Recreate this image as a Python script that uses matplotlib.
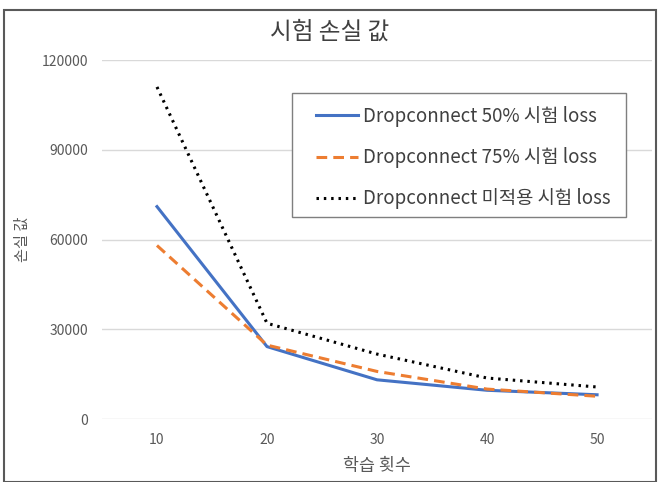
import matplotlib.pyplot as plt
from matplotlib.patches import Rectangle

plt.rcParams['font.family'] = ['Noto Sans CJK KR', 'DejaVu Sans']

epochs = ['10', '20', '30', '40', '50']
loss_50 = [71000, 24200, 13100, 9600, 8100]
loss_75 = [58000, 24700, 15900, 10000, 7600]
loss_none = [111000, 32000, 21700, 13700, 10700]
labels = ['Dropconnect 50% 시험 loss', 'Dropconnect 75% 시험 loss', 'Dropconnect 미적용 시험 loss']

fig = plt.figure(figsize=(6.6, 4.82), dpi=100)
ax = fig.add_axes([0.1545, 0.1307, 0.8335, 0.7448])

x = range(len(epochs))
ax.plot(x, loss_50, color='#4472C4', lw=2.2, label=labels[0])
ax.plot(x, loss_75, color='#ED7D31', lw=2.2, ls=(0, (3.5, 2)), label=labels[1])
ax.plot(x, loss_none, color='black', lw=2.2, ls=(0, (0.8, 1.6)), label=labels[2])

ax.set_xlim(-0.5, 4.5)
ax.set_ylim(0, 120000)
ax.set_yticks([0, 30000, 60000, 90000, 120000])
ax.set_xticks(list(x))
ax.set_xticklabels(epochs)
ax.tick_params(length=0, colors='#595959', labelsize=10, pad=10)
ax.grid(axis='y', color='#d9d9d9', lw=1)
ax.set_axisbelow(True)
for s in ax.spines.values():
    s.set_visible(False)

fig.text(0.5, 0.932, '시험 손실 값', ha='center', va='center', fontsize=17, color='#404040')
ax.set_xlabel('학습 횟수', fontsize=12.5, color='#595959', labelpad=7)
ax.set_ylabel('손실 값', fontsize=11, color='#595959')
ax.yaxis.set_label_coords(-0.13, 0.5)

# legend box drawn separately so the padding can differ per side
ax.add_patch(Rectangle((0.3455, 0.5627), 0.6072, 0.3453, transform=ax.transAxes,
                       facecolor='white', edgecolor='#7f7f7f', lw=1, zorder=4))
leg = ax.legend(loc='upper left', bbox_to_anchor=(0.389, 0.872), borderaxespad=0,
                fontsize=13.5, frameon=False, borderpad=0,
                handlelength=2.25, labelspacing=1.08, handletextpad=0.27)
leg.set_zorder(5)
for t in leg.get_texts():
    t.set_color('#404040')

fig.patches.append(Rectangle((0.006, 0.0), 0.988, 0.98, transform=fig.transFigure,
                             fill=False, edgecolor='#595959', lw=1.5))

fig.savefig('out.png', dpi=100)
